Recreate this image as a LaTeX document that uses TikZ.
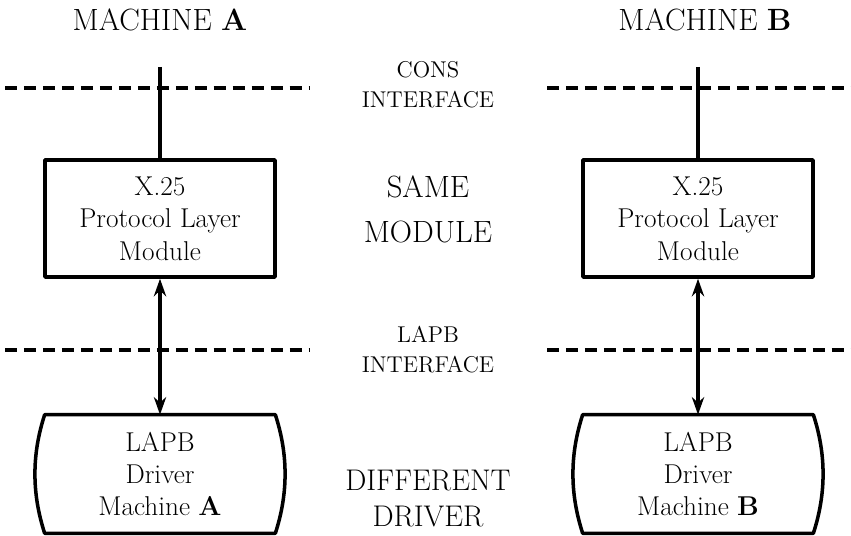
\documentclass[tikz,border=0pt]{standalone}
\usetikzlibrary{arrows.meta}
\begin{document}
\begin{tikzpicture}[x=0.02cm, y=-0.02cm, line join=round, >={Stealth[length=10pt,width=7pt]}]

		\tikzset{mod box/.style={draw, line width=2pt, minimum width=4.6cm, minimum height=2.34cm,
				align=center, font=\fontsize{15.5}{18.5}\selectfont},
			drv box/.style={minimum width=4.6cm, minimum height=2.36cm, inner sep=0pt,
				align=center, font=\fontsize{15.5}{18}\selectfont},
			mach label/.style={font=\fontsize{17.5}{20}\selectfont},
			small label/.style={align=center, font=\fontsize{13}{17}\selectfont},
			big label/.style={align=center, font=\fontsize{17.5}{25.6}\selectfont},
			sep line/.style={line width=2pt, dash pattern=on 6.8pt off 4pt},
			link/.style={line width=2pt}}

		\useasboundingbox (0,0) rectangle (851,536);

		% machine titles
		\node[mach label] (titleA) at (160,20) {MACHINE \textbf{A}};
		\node[mach label] (titleB) at (705,20) {MACHINE \textbf{B}};

		% interface lines
		\draw[sep line] (5,88)--(310,88);
		\draw[sep line] (547,88)--(851,88);
		\draw[sep line] (5,350)--(310,350);
		\draw[sep line] (547,350)--(851,350);

		% middle captions
		\node[small label] (cons) at (428,85) {CONS\\INTERFACE};
		\node[big label] (same) at (428,209.5) {SAME\\MODULE};
		\node[small label] (lapb) at (428,350) {LAPB\\INTERFACE};
		\node[big label, font=\fontsize{17}{21}\selectfont] (diff) at (428,498.5) {DIFFERENT\\DRIVER};

		% protocol modules
		\node[mod box] (modA) at (160,218.5) {X.25\\Protocol Layer\\Module};
		\node[mod box] (modB) at (698,218.5) {X.25\\Protocol Layer\\Module};

		% drivers
		\node[drv box] (drvA) at (160,474) {LAPB\\Driver\\Machine \textbf{A}};
		\node[drv box] (drvB) at (698,474) {LAPB\\Driver\\Machine \textbf{B}};
		\foreach \d in {drvA,drvB}
		\draw[link] (\d.north west)--(\d.north east) .. controls +(13,40) and +(13,-40) .. (\d.south east)
			--(\d.south west) .. controls +(-13,-40) and +(-13,40) .. cycle;

		% connections
		\coordinate (topA) at (160,67);
		\coordinate (topB) at (698,67);
		\draw[link] (topA)--(modA.north);
		\draw[link] (topB)--(modB.north);
		\draw[link,<->] (modA.south)--(drvA.north);
		\draw[link,<->] (modB.south)--(drvB.north);
		\end{tikzpicture}
\end{document}
